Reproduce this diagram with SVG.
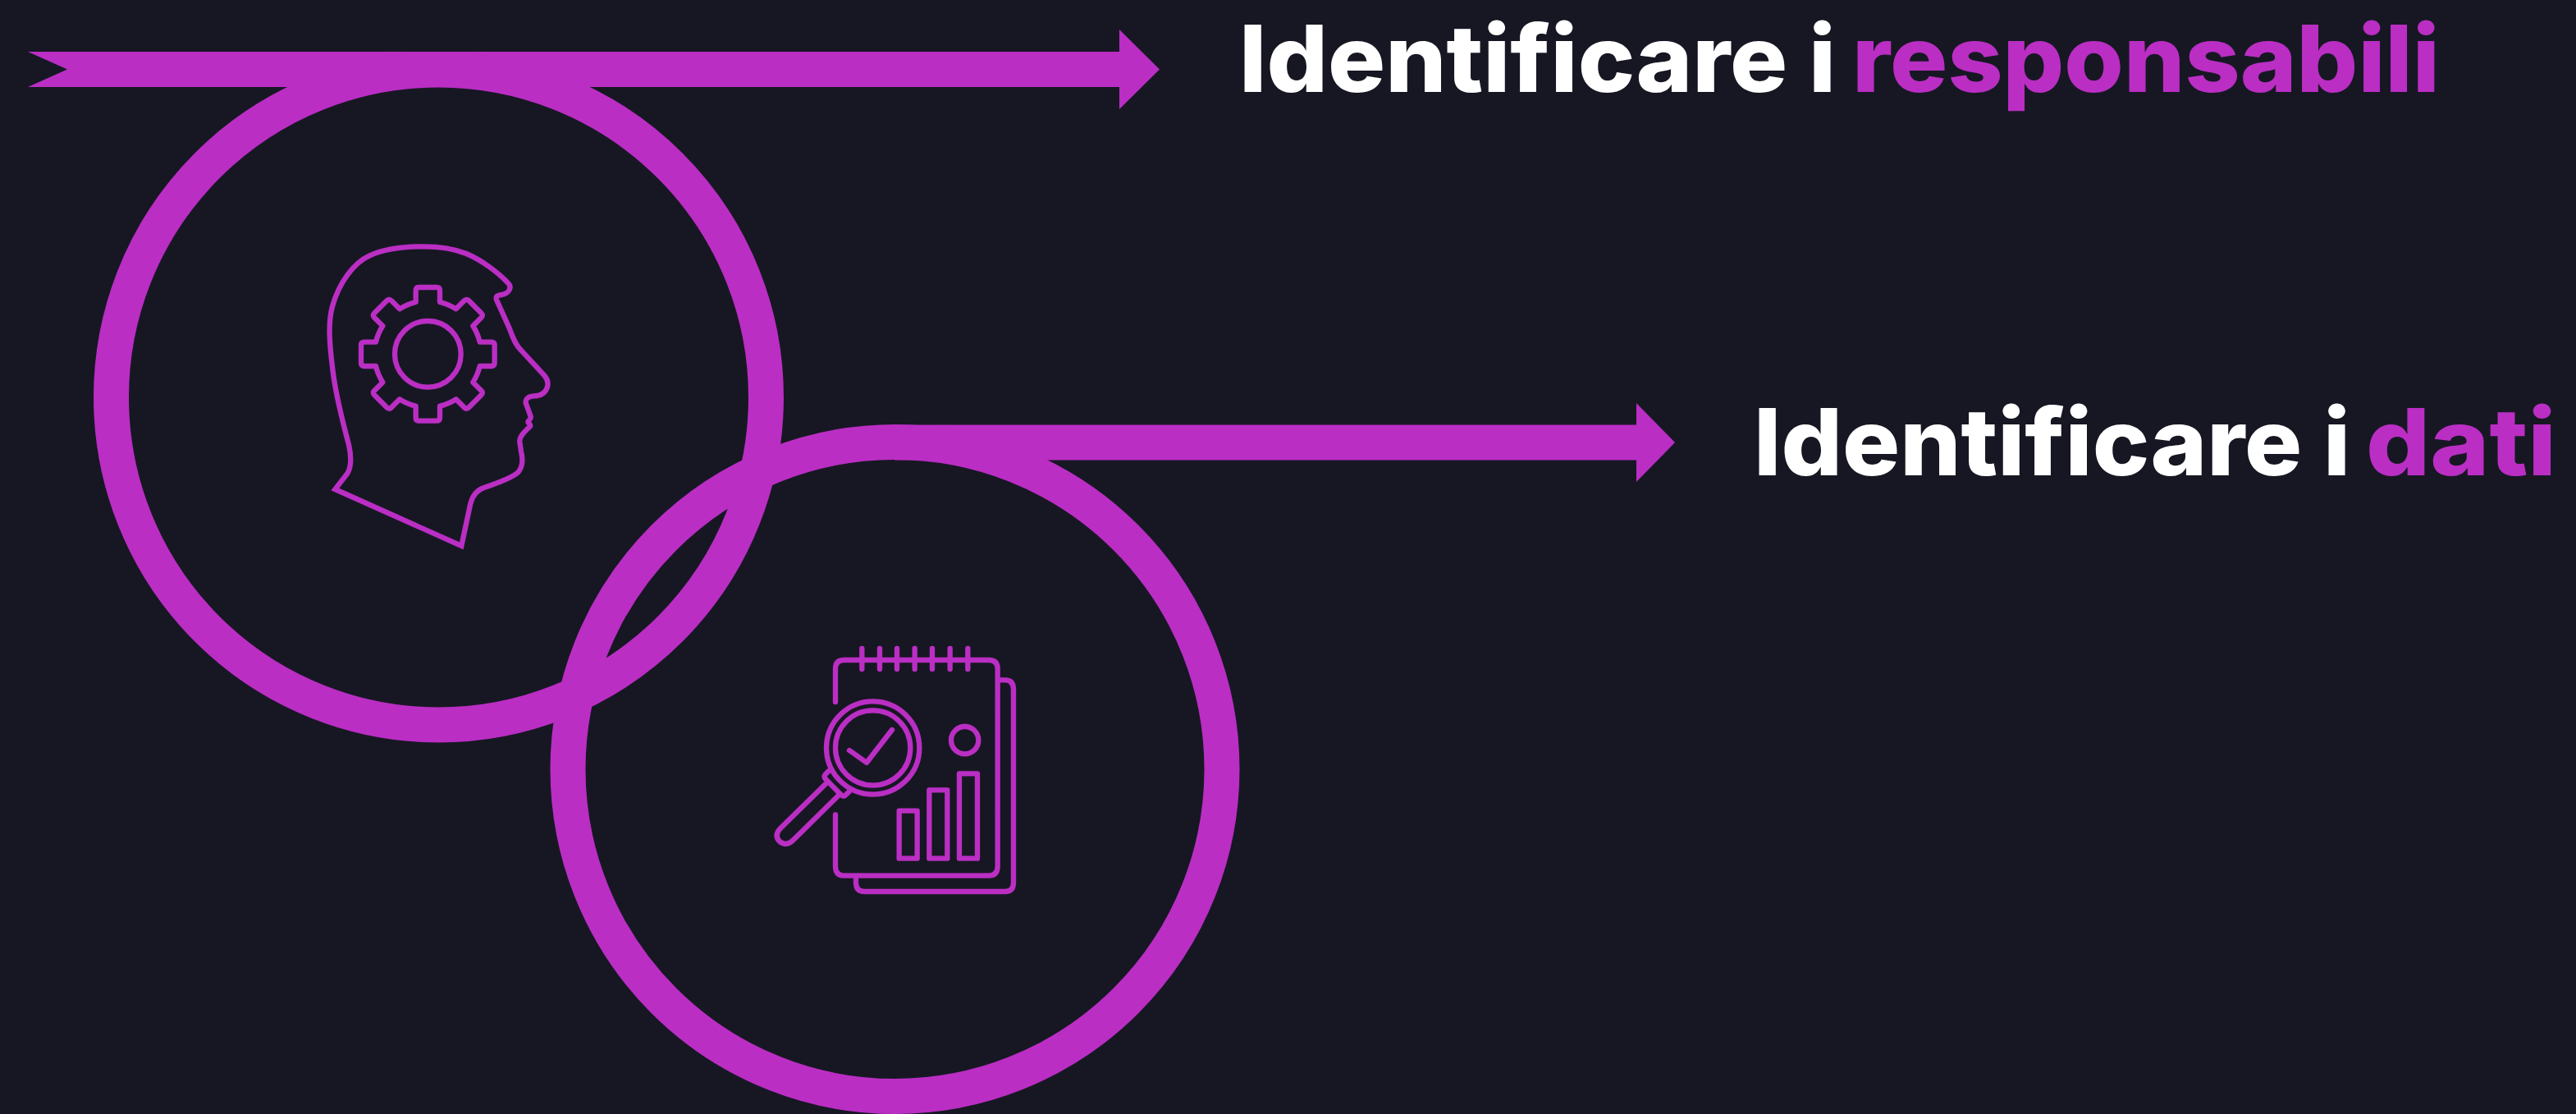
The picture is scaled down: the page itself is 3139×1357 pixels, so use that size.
<svg xmlns="http://www.w3.org/2000/svg" width="3139" height="1357" viewBox="0 0 3139 1357">
<style>
.ring{fill:none;stroke:#ba2ec4;stroke-width:43}
.arrow{fill:#ba2ec4}
.icon{fill:none;stroke:#ba2ec4;stroke-width:19;stroke-linecap:round;stroke-linejoin:round}
.label{font-family:Inter,"Liberation Sans",sans-serif;font-weight:800;font-size:113px}
.w{fill:#ffffff}
.p{fill:#ba2ec4}
</style>
<rect width="3139" height="1357" fill="#171723"/>
<g id="connectors">
<polygon class="arrow" points="34,63 1364,63 1364,36 1413,84.500 1364,133 1364,106 34,106 82,84.500"/>
<polygon class="arrow" points="1090,517.500 1994,517.500 1994,491 2041,539 1994,587 1994,560.500 1090,560.500"/>
</g>
<g id="node-responsabili">
<circle class="ring" cx="534.500" cy="484" r="399"/>
<g class="icon" transform="translate(360 270) scale(.33333)">
<path stroke-linecap="butt" stroke-linejoin="miter" d="M145,978 L607,1185 L640,1030 C648,1000 665,980 690,972 C740,955 795,935 815,915 C835,890 830,860 825,840 L820,805 C818,785 835,770 858,748 C862,740 850,738 850,733 C850,725 862,725 860,712 L843,665 C838,650 850,640 865,638 L885,636 C920,630 935,590 910,562 L825,470 C800,445 795,420 780,385 L735,285 C730,270 745,268 755,267 C780,262 795,240 775,222 C740,185 680,140 625,117 C570,95 520,91 470,91 C390,91 320,100 270,125 C215,150 160,220 135,310 C118,370 125,450 135,530 C145,630 175,740 195,815 C205,860 205,895 190,920 Z"/>
<g transform="translate(484 484)">
<circle r="121"/>
<path d="M-44,-190 L-44,-232 Q-44,-244 -32,-244 L32,-244 Q44,-244 44,-232 L44,-190 A195,195 0 0 1 103,-165 L133,-195 Q141,-204 150,-195 L195,-150 Q204,-141 195,-133 L165,-103 A195,195 0 0 1 190,-44 L232,-44 Q244,-44 244,-32 L244,32 Q244,44 232,44 L190,44 A195,195 0 0 1 165,103 L195,133 Q204,141 195,150 L150,195 Q141,204 133,195 L103,165 A195,195 0 0 1 44,190 L44,232 Q44,244 32,244 L-32,244 Q-44,244 -44,232 L-44,190 A195,195 0 0 1 -103,165 L-133,195 Q-141,204 -150,195 L-195,150 Q-204,141 -195,133 L-165,103 A195,195 0 0 1 -190,44 L-232,44 Q-244,44 -244,32 L-244,-32 Q-244,-44 -232,-44 L-190,-44 A195,195 0 0 1 -165,-103 L-195,-133 Q-204,-141 -195,-150 L-150,-195 Q-141,-204 -133,-195 L-103,-165 A195,195 0 0 1 -44,-190 Z"/>
</g>
</g>
<text class="label" y="112"><tspan class="w" x="1510" textLength="727" lengthAdjust="spacingAndGlyphs">Identificare i</tspan><tspan class="p" x="2257" textLength="716" lengthAdjust="spacingAndGlyphs">responsabili</tspan></text>
</g>
<g id="node-dati">
<circle class="ring" cx="1090.500" cy="937" r="398.500"/>
<g class="icon" transform="translate(920 760) scale(.33333)">
<path d="M895,205 H915 Q945,205 945,240 V945 Q945,978 915,978 H400 Q369,978 369,945 V925"/>
<path d="M294,285 V165 Q294,132 325,132 H855 Q887,132 887,165 V885 Q887,920 855,920 H325 Q294,920 294,885 V697"/>
<path d="M391,90 V165 M456,90 V165 M519,90 V165 M584,90 V165 M648,90 V165 M713,90 V165 M778,90 V165"/>
<circle cx="431" cy="453" r="170"/>
<circle cx="431" cy="453" r="137"/>
<path d="M345,462 L408,507 L501,387"/>
<circle cx="767" cy="425" r="50"/>
<rect x="527" y="683" width="66" height="174"/>
<rect x="637" y="607" width="66" height="250"/>
<rect x="747" y="547" width="66" height="310"/>
<path d="M270,537 L258,549 Q250,558 258,567 L315,625 Q323,633 332,625 L345,612"/>
<path d="M258,585 L90,750 Q70,775 90,795 Q115,815 140,790 L305,627"/>
</g>
<text class="label" y="579"><tspan class="w" x="2137" textLength="727" lengthAdjust="spacingAndGlyphs">Identificare i</tspan><tspan class="p" x="2883" textLength="232" lengthAdjust="spacingAndGlyphs">dati</tspan></text>
</g>
</svg>
